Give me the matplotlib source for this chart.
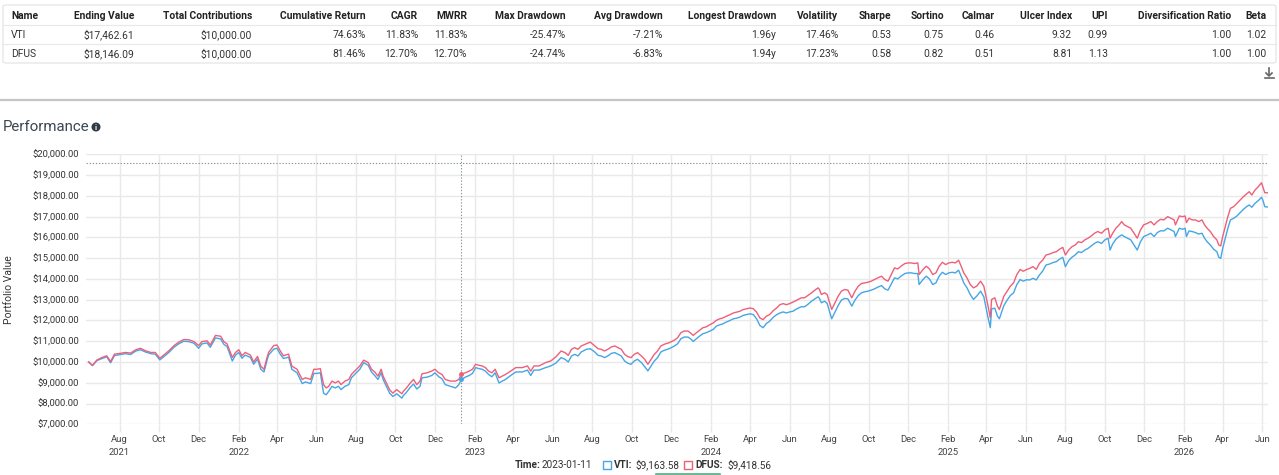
import pandas as pd
import matplotlib.pyplot as plt
from matplotlib.patches import Rectangle, FancyBboxPatch, Ellipse
from matplotlib.lines import Line2D

plt.rcParams['font.family'] = ['Roboto', 'DejaVu Sans']

# ---- summary table ----
columns = ['Name', 'Ending Value', 'Total Contributions', 'Cumulative Return', 'CAGR', 'MWRR',
           'Max Drawdown', 'Avg Drawdown', 'Longest Drawdown', 'Volatility', 'Sharpe', 'Sortino',
           'Calmar', 'Ulcer Index', 'UPI', 'Diversification Ratio', 'Beta']
row_vti = ['VTI', '$17,462.61', '$10,000.00', '74.63%', '11.83%', '11.83%', '-25.47%', '-7.21%',
           '1.96y', '17.46%', '0.53', '0.75', '0.46', '9.32', '0.99', '1.00', '1.02']
row_dfus = ['DFUS', '$18,146.09', '$10,000.00', '81.46%', '12.70%', '12.70%', '-24.74%', '-6.83%',
            '1.94y', '17.23%', '0.58', '0.82', '0.51', '8.81', '1.13', '1.00', '1.00']

# ---- portfolio values ----
dates = [
    '2021-06-14', '2021-06-20', '2021-06-27', '2021-07-05', '2021-07-12', '2021-07-18', '2021-07-24', '2021-08-01',
    '2021-08-10', '2021-08-18', '2021-08-26', '2021-09-02', '2021-09-10', '2021-09-18', '2021-09-25', '2021-10-02',
    '2021-10-08', '2021-10-16', '2021-10-24', '2021-10-31', '2021-11-08', '2021-11-16', '2021-11-24', '2021-12-01',
    '2021-12-06', '2021-12-14', '2021-12-19', '2021-12-27', '2022-01-04', '2022-01-09', '2022-01-14', '2022-01-22',
    '2022-01-27', '2022-02-01', '2022-02-06', '2022-02-11', '2022-02-19', '2022-02-24', '2022-03-02', '2022-03-07',
    '2022-03-12', '2022-03-16', '2022-03-19', '2022-03-27', '2022-04-01', '2022-04-06', '2022-04-11', '2022-04-19',
    '2022-04-24', '2022-05-02', '2022-05-10', '2022-05-15', '2022-05-23', '2022-05-28', '2022-06-02', '2022-06-07',
    '2022-06-12', '2022-06-16', '2022-06-20', '2022-06-25', '2022-06-30', '2022-07-05', '2022-07-09', '2022-07-15',
    '2022-07-21', '2022-07-25', '2022-07-30', '2022-08-07', '2022-08-13', '2022-08-20', '2022-08-25', '2022-08-30',
    '2022-09-04', '2022-09-09', '2022-09-12', '2022-09-17', '2022-09-22', '2022-09-27', '2022-10-03', '2022-10-11',
    '2022-10-13', '2022-10-18', '2022-10-24', '2022-10-29', '2022-11-03', '2022-11-08', '2022-11-11', '2022-11-19',
    '2022-11-26', '2022-12-01', '2022-12-07', '2022-12-12', '2022-12-17', '2022-12-25', '2023-01-02', '2023-01-07',
    '2023-01-11', '2023-01-17', '2023-01-23', '2023-01-28', '2023-02-02', '2023-02-07', '2023-02-12', '2023-02-17',
    '2023-02-22', '2023-02-27', '2023-03-04', '2023-03-10', '2023-03-15', '2023-03-20', '2023-03-28', '2023-04-05',
    '2023-04-15', '2023-04-23', '2023-04-28', '2023-05-03', '2023-05-11', '2023-05-21', '2023-05-29', '2023-06-06',
    '2023-06-14', '2023-06-20', '2023-06-25', '2023-06-30', '2023-07-05', '2023-07-10', '2023-07-15', '2023-07-23',
    '2023-07-29', '2023-08-05', '2023-08-10', '2023-08-15', '2023-08-20', '2023-08-25', '2023-08-31', '2023-09-05',
    '2023-09-10', '2023-09-15', '2023-09-20', '2023-09-25', '2023-09-30', '2023-10-05', '2023-10-10', '2023-10-16',
    '2023-10-21', '2023-10-26', '2023-10-31', '2023-11-05', '2023-11-10', '2023-11-15', '2023-11-20', '2023-11-28',
    '2023-12-06', '2023-12-11', '2023-12-16', '2023-12-21', '2023-12-27', '2024-01-01', '2024-01-04', '2024-01-09',
    '2024-01-14', '2024-01-19', '2024-01-24', '2024-01-30', '2024-02-04', '2024-02-09', '2024-02-14', '2024-02-19',
    '2024-02-24', '2024-03-01', '2024-03-06', '2024-03-11', '2024-03-16', '2024-03-21', '2024-03-26', '2024-04-01',
    '2024-04-06', '2024-04-11', '2024-04-16', '2024-04-21', '2024-04-26', '2024-05-01', '2024-05-07', '2024-05-12',
    '2024-05-17', '2024-05-22', '2024-05-27', '2024-06-01', '2024-06-06', '2024-06-09', '2024-06-14', '2024-06-19',
    '2024-06-24', '2024-06-29', '2024-07-05', '2024-07-10', '2024-07-15', '2024-07-17', '2024-07-20', '2024-07-25',
    '2024-07-29', '2024-08-01', '2024-08-05', '2024-08-10', '2024-08-15', '2024-08-20', '2024-08-25', '2024-08-30',
    '2024-09-05', '2024-09-10', '2024-09-15', '2024-09-20', '2024-09-25', '2024-09-30', '2024-10-05', '2024-10-10',
    '2024-10-15', '2024-10-21', '2024-10-26', '2024-10-31', '2024-11-05', '2024-11-10', '2024-11-15', '2024-11-20',
    '2024-11-26', '2024-12-01', '2024-12-06', '2024-12-11', '2024-12-16', '2024-12-18', '2024-12-24', '2024-12-29',
    '2025-01-03', '2025-01-08', '2025-01-13', '2025-01-18', '2025-01-23', '2025-01-28', '2025-02-02', '2025-02-07',
    '2025-02-12', '2025-02-17', '2025-02-21', '2025-02-25', '2025-03-02', '2025-03-07', '2025-03-12', '2025-03-17',
    '2025-03-23', '2025-03-28', '2025-04-03', '2025-04-07', '2025-04-09', '2025-04-14', '2025-04-18', '2025-04-21',
    '2025-04-28', '2025-05-03', '2025-05-08', '2025-05-13', '2025-05-18', '2025-05-23', '2025-05-28', '2025-06-02',
    '2025-06-07', '2025-06-12', '2025-06-17', '2025-06-22', '2025-06-27', '2025-07-02', '2025-07-08', '2025-07-13',
    '2025-07-18', '2025-07-23', '2025-07-28', '2025-08-01', '2025-08-06', '2025-08-11', '2025-08-16', '2025-08-21',
    '2025-08-26', '2025-08-31', '2025-09-05', '2025-09-10', '2025-09-15', '2025-09-20', '2025-09-26', '2025-10-01',
    '2025-10-06', '2025-10-09', '2025-10-13', '2025-10-18', '2025-10-23', '2025-10-27', '2025-10-31', '2025-11-05',
    '2025-11-10', '2025-11-15', '2025-11-20', '2025-11-25', '2025-11-30', '2025-12-06', '2025-12-11', '2025-12-16',
    '2025-12-21', '2025-12-26', '2025-12-31', '2026-01-06', '2026-01-11', '2026-01-16', '2026-01-18', '2026-01-24',
    '2026-01-29', '2026-02-02', '2026-02-04', '2026-02-08', '2026-02-13', '2026-02-18', '2026-02-23', '2026-02-28',
    '2026-03-04', '2026-03-08', '2026-03-13', '2026-03-18', '2026-03-23', '2026-03-26', '2026-03-29', '2026-04-01',
    '2026-04-05', '2026-04-09', '2026-04-13', '2026-04-18', '2026-04-23', '2026-04-28', '2026-05-03', '2026-05-08',
    '2026-05-12', '2026-05-16', '2026-05-21', '2026-05-26', '2026-05-31', '2026-06-02', '2026-06-05', '2026-06-09',
]
dfus = [
    10000, 9840, 10100, 10220, 10300, 10020, 10380, 10410,
    10460, 10430, 10590, 10660, 10540, 10460, 10460, 10180,
    10330, 10540, 10790, 10950, 11080, 11070, 10980, 10790,
    10980, 11020, 10820, 11280, 11240, 10980, 10870, 10220,
    10460, 10590, 10300, 10460, 10330, 10000, 10270, 9800,
    9650, 10140, 10460, 10790, 10820, 10540, 10300, 10380,
    9800, 9650, 9160, 9240, 9160, 9650, 9650, 9680,
    8910, 8750, 8830, 9080, 8990, 9080, 8910, 9080,
    9160, 9400, 9560, 9810, 10090, 9970, 9650, 9520,
    9320, 9650, 9320, 8990, 8670, 8500, 8670, 8470,
    8580, 8750, 8990, 9160, 8910, 9080, 9430, 9480,
    9560, 9650, 9480, 9400, 9160, 9080, 9080, 9160,
    9418.56, 9480, 9560, 9650, 9890, 9840, 9810, 9730,
    9560, 9480, 9650, 9240, 9320, 9400, 9560, 9730,
    9730, 9810, 9560, 9810, 9810, 9970, 10050, 10250,
    10530, 10450, 10320, 10610, 10690, 10610, 10770, 10880,
    10960, 10770, 10640, 10610, 10530, 10610, 10730, 10770,
    10690, 10610, 10370, 10260, 10210, 10370, 10450, 10290,
    10130, 9890, 10130, 10370, 10530, 10770, 10850, 10930,
    11050, 11170, 11410, 11490, 11490, 11370, 11280, 11410,
    11530, 11650, 11690, 11800, 11880, 12010, 12080, 12120,
    12200, 12280, 12360, 12400, 12440, 12520, 12560, 12600,
    12560, 12400, 12120, 12040, 12200, 12280, 12480, 12600,
    12760, 12810, 12760, 12810, 12880, 12930, 13010, 13090,
    13090, 13200, 13330, 13460, 13570, 13490, 13250, 13330,
    13250, 12930, 12530, 12850, 13170, 13410, 13490, 13460,
    13090, 13410, 13650, 13780, 13810, 13840, 13890, 13970,
    14050, 14130, 13970, 13890, 14210, 14530, 14480, 14610,
    14740, 14770, 14770, 14740, 14770, 14210, 14450, 14610,
    14480, 14210, 14290, 14610, 14800, 14690, 14770, 14800,
    14770, 14900, 14610, 14290, 14050, 13730, 13570, 13650,
    13890, 13650, 12770, 12130, 13010, 13090, 12690, 12530,
    13170, 13410, 13650, 13810, 14210, 14450, 14370, 14450,
    14510, 14590, 14460, 14750, 14910, 15150, 15200, 15270,
    15310, 15430, 15520, 15150, 15390, 15550, 15630, 15790,
    15750, 15880, 15960, 16070, 16200, 16280, 16200, 16360,
    16440, 15960, 16200, 16440, 16600, 16760, 16600, 16520,
    16440, 16200, 15960, 16360, 16600, 16680, 16760, 16600,
    16760, 16870, 16840, 17000, 16920, 16840, 16600, 17030,
    17000, 17030, 16710, 16920, 16840, 16840, 16760, 16840,
    16600, 16440, 16280, 16040, 15880, 15630, 15590, 16040,
    16520, 17000, 17400, 17480, 17640, 17800, 17960, 18090,
    18200, 18040, 18280, 18440, 18630, 18440, 18150, 18146.09,
]
vti = [
    10000, 9825, 10070, 10170, 10250, 9960, 10310, 10350,
    10400, 10360, 10530, 10590, 10480, 10400, 10380, 10100,
    10250, 10460, 10710, 10870, 11000, 10980, 10900, 10660,
    10870, 10920, 10710, 11160, 11110, 10850, 10740, 10050,
    10330, 10460, 10180, 10330, 10220, 9890, 10140, 9650,
    9520, 10000, 10330, 10620, 10660, 10380, 10170, 10230,
    9650, 9480, 8960, 9040, 8960, 9450, 9450, 9480,
    8500, 8420, 8590, 8830, 8750, 8830, 8670, 8830,
    8910, 9240, 9400, 9650, 9970, 9840, 9520, 9350,
    9160, 9480, 9160, 8830, 8500, 8340, 8470, 8260,
    8370, 8540, 8780, 8940, 8700, 8830, 9240, 9270,
    9350, 9480, 9290, 9190, 8910, 8830, 8750, 8910,
    9163.58, 9270, 9350, 9450, 9730, 9680, 9650, 9560,
    9400, 9290, 9480, 8990, 9080, 9160, 9350, 9520,
    9520, 9610, 9350, 9610, 9610, 9730, 9810, 9950,
    10210, 10130, 10000, 10290, 10370, 10290, 10480, 10610,
    10640, 10480, 10320, 10290, 10210, 10290, 10420, 10450,
    10370, 10290, 10050, 9940, 9890, 10050, 10130, 9970,
    9780, 9570, 9810, 10050, 10210, 10480, 10560, 10640,
    10770, 10880, 11120, 11200, 11200, 11090, 10990, 11120,
    11250, 11360, 11410, 11490, 11570, 11730, 11790, 11840,
    11920, 12000, 12080, 12110, 12160, 12240, 12280, 12320,
    12280, 12080, 11760, 11650, 11850, 11960, 12160, 12280,
    12360, 12410, 12360, 12410, 12440, 12500, 12590, 12660,
    12660, 12770, 12930, 13040, 13140, 13060, 12850, 12930,
    12820, 12500, 12080, 12400, 12720, 12980, 13060, 13040,
    12690, 12980, 13200, 13330, 13380, 13410, 13460, 13520,
    13600, 13680, 13520, 13460, 13760, 14050, 14000, 14130,
    14260, 14290, 14290, 14260, 14260, 13730, 13970, 14130,
    14000, 13730, 13810, 14130, 14320, 14210, 14290, 14320,
    14290, 14420, 14130, 13810, 13570, 13250, 13010, 13170,
    13410, 13140, 12210, 11650, 12560, 12590, 12210, 12080,
    12720, 12980, 13200, 13330, 13730, 13970, 13890, 13960,
    13950, 14030, 13950, 14190, 14380, 14670, 14720, 14790,
    14830, 14950, 15040, 14590, 14880, 15040, 15150, 15310,
    15270, 15390, 15470, 15590, 15710, 15790, 15710, 15880,
    15960, 15390, 15680, 15910, 16040, 16120, 16040, 15960,
    15880, 15630, 15390, 15790, 16040, 16120, 16200, 16040,
    16230, 16320, 16310, 16440, 16360, 16280, 16040, 16440,
    16390, 16440, 16040, 16310, 16280, 16230, 16160, 16200,
    15960, 15790, 15630, 15430, 15310, 15040, 14990, 15470,
    15960, 16440, 16840, 16920, 17030, 17190, 17350, 17480,
    17560, 17450, 17640, 17770, 17930, 17800, 17480, 17462.61,
]

hover_date = '2023-01-11'
hover_vti = 9163.58
hover_dfus = 9418.56
hover_level = 19600

vti_color = '#45a6e6'
dfus_color = '#ee6079'

W, H = 1279, 475
fig = plt.figure(figsize=(W / 100, H / 100), dpi=100)


def fx(px):
    return px / W


def fy(py):
    return 1 - py / H


# table frame
fig.add_artist(FancyBboxPatch((fx(3), fy(63)), fx(1273), 58 / H, boxstyle='round,pad=0,rounding_size=0.003',
                              transform=fig.transFigure, fc='white', ec='#e2e2e2', lw=0.8))
for yy in [25, 44]:
    fig.add_artist(Line2D([fx(3), fx(1276)], [fy(yy), fy(yy)], color='#e8e8e8', lw=0.8))

col_right = [11, 134, 252, 366, 418, 467, 566, 663, 776, 838, 891, 944, 995, 1072, 1108, 1231, 1266]
for i, name in enumerate(columns):
    ha = 'left' if i == 0 else 'right'
    fig.text(fx(col_right[i]), fy(16), name, ha=ha, va='center', fontsize=7.4, fontweight='bold', color='#222')
    fig.text(fx(col_right[i]), fy(35), row_vti[i], ha=ha, va='center', fontsize=7.4, color='#333')
    fig.text(fx(col_right[i]), fy(54), row_dfus[i], ha=ha, va='center', fontsize=7.4, color='#333')

# download icon
fig.add_artist(Line2D([fx(1269), fx(1269)], [fy(68), fy(75)], color='#666', lw=1.2))
fig.add_artist(Line2D([fx(1266), fx(1269), fx(1272)], [fy(73), fy(76), fy(73)], color='#666', lw=1.2))
fig.add_artist(Line2D([fx(1264.5), fx(1273.5)], [fy(78.5), fy(78.5)], color='#666', lw=1.2))

# section divider and title
fig.add_artist(Line2D([0, 1], [fy(99.5), fy(99.5)], color='#c4c4c4', lw=1.6))
fig.text(fx(3), fy(127), 'Performance', ha='left', va='center', fontsize=10.8, color='#3b4651')
fig.add_artist(Ellipse((fx(96), fy(127)), 9 / W, 9 / H, transform=fig.transFigure, fc='#2e3a46', ec='none'))
fig.text(fx(96), fy(127.3), 'i', ha='center', va='center', fontsize=5.5, fontweight='bold', color='white')

# chart
ax = fig.add_axes([fx(86), fy(424.3), fx(1268) - fx(86), (424.3 - 154.3) / H])
d = pd.to_datetime(dates)
ax.plot(d, vti, color=vti_color, lw=1.0, zorder=3)
ax.plot(d, dfus, color=dfus_color, lw=1.0, zorder=3)

ax.set_ylim(7000, 20000)
ax.set_xlim(pd.Timestamp('2021-06-10'), pd.Timestamp('2026-06-10'))
ax.set_yticks(range(7000, 20001, 1000))
ax.set_yticklabels(['${:,.2f}'.format(v) for v in range(7000, 20001, 1000)])

xt = pd.date_range('2021-08-01', '2026-06-01', freq='2MS')
labels = []
for i, t in enumerate(xt):
    lab = t.strftime('%b')
    if i == 0 or t.month == 2:
        lab += '\n' + str(t.year)
    labels.append(lab)
ax.set_xticks(xt)
ax.set_xticklabels(labels, linespacing=1.45)

ax.grid(True, color='#e9e9e9', lw=1.0)
ax.set_axisbelow(True)
for s in ax.spines.values():
    s.set_visible(False)
ax.tick_params(axis='y', length=0, pad=5, labelsize=6.8, labelcolor='#333')
ax.tick_params(axis='x', length=6, color='#e9e9e9', width=1.0, pad=2, labelsize=6.8, labelcolor='#444')
ax.set_ylabel('Portfolio Value', fontsize=7.5, color='#333')
ax.yaxis.set_label_coords(-(86 - 14) / (1268 - 86), 0.5)

# hover crosshair
hd = pd.Timestamp(hover_date)
ax.axvline(hd, color='#8d949c', lw=0.8, ls=(0, (1.2, 1.6)), zorder=4)
ax.axhline(hover_level, color='#8d949c', lw=0.8, ls=(0, (1.2, 1.6)), zorder=4)
ax.plot([hd], [hover_dfus], 'o', color=dfus_color, ms=2.5, zorder=5)
ax.plot([hd], [hover_vti], 'o', color=vti_color, ms=2.5, zorder=5)

# hover legend
ly = fy(465)
fig.text(fx(515), ly, 'Time:', ha='left', va='center', fontsize=7.2, fontweight='bold', color='#333')
fig.text(fx(542), ly, hover_date, ha='left', va='center', fontsize=7.2, color='#333')
fig.add_artist(Rectangle((fx(603), fy(469)), 8 / W, 8 / H, transform=fig.transFigure, fc='white', ec=vti_color, lw=1.0))
fig.text(fx(614), ly, 'VTI:', ha='left', va='center', fontsize=7.2, fontweight='bold', color='#333')
fig.text(fx(635), ly, '${:,.2f}'.format(hover_vti), ha='left', va='center', fontsize=7.2, color='#333')
fig.add_artist(Rectangle((fx(684), fy(469)), 8 / W, 8 / H, transform=fig.transFigure, fc='white', ec=dfus_color, lw=1.0))
fig.text(fx(695), ly, 'DFUS:', ha='left', va='center', fontsize=7.2, fontweight='bold', color='#333')
fig.text(fx(727), ly, '${:,.2f}'.format(hover_dfus), ha='left', va='center', fontsize=7.2, color='#333')
fig.add_artist(Line2D([fx(656), fx(720)], [fy(474), fy(474)], color='#4caf7d', lw=1.2))

fig.savefig('out.png', dpi=100)
